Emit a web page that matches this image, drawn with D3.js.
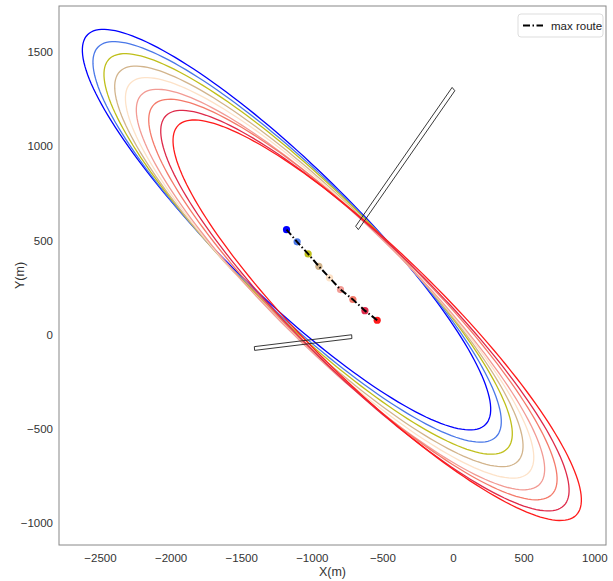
<!DOCTYPE html>
<html lang="en">
<head>
<meta charset="UTF-8">
<title>max route ellipses</title>
<script src="https://d3js.org/d3.v7.min.js"></script>
<style>
  body { margin: 0; background: #fff; }
  svg { display: block; font-family: "Liberation Sans Narrow", "Liberation Sans", Arial, sans-serif; }
  .axis text { font-size: 11.5px; fill: #333; }
  .label { font-size: 12.5px; fill: #333; }
  .ellipse { fill: none; stroke-width: 1.3px; }
  .rect { fill: none; stroke: #222; stroke-width: 0.9px; }
  .route { fill: none; stroke: #000; stroke-width: 2px; stroke-dasharray: 7 2.5 1.5 2.5; }
</style>
</head>
<body>
<svg width="613" height="581"></svg>
<script>
// route points (ellipse centres), metres
const centerX = [-1179, -1104, -1026, -950, -874, -797, -709, -624, -537];
const centerY = [557, 492, 428, 362, 301, 239, 186, 127, 76];
const colors = ["#0000ff", "#4a78e8", "#bfbf1a", "#d2b48c", "#fde2c8", "#f29b94", "#f47a6a", "#de2a4a", "#ff1a1a"];

// ellipse shape shared by all centres
const semiMajor = 1752;
const semiMinor = 388;
const tiltDeg = -35.4;

// thin rectangles: start point, end point, thickness
const rectStart = [[-680, 566], [-1406, -74]];
const rectEnd = [[3, 1303], [-717, -11]];
const rectThick = [26, 20];

const xTicks = [-2500, -2000, -1500, -1000, -500, 0, 500, 1000];
const yTicks = [-1000, -500, 0, 500, 1000, 1500];

const svg = d3.select("svg");
const plot = { left: 59, right: 606, top: 6, bottom: 545 };

const x = d3.scaleLinear().domain([-2790, 1083]).range([plot.left, plot.right]);
const y = d3.scaleLinear().domain([-1117, 1744]).range([plot.bottom, plot.top]);
const fmt = d3.format("d");

// frame
svg.append("rect")
  .attr("x", plot.left).attr("y", plot.top)
  .attr("width", plot.right - plot.left).attr("height", plot.bottom - plot.top)
  .attr("fill", "none").attr("stroke", "#888").attr("stroke-width", 1);

const xAxis = svg.append("g").attr("class", "axis")
  .attr("transform", `translate(0,${plot.bottom})`)
  .call(d3.axisBottom(x).tickValues(xTicks).tickFormat(fmt).tickSize(0).tickPadding(9));
xAxis.select(".domain").remove();

const yAxis = svg.append("g").attr("class", "axis")
  .attr("transform", `translate(${plot.left},0)`)
  .call(d3.axisLeft(y).tickValues(yTicks).tickFormat(fmt).tickSize(0).tickPadding(6));
yAxis.select(".domain").remove();

svg.append("text").attr("class", "label")
  .attr("x", (plot.left + plot.right) / 2).attr("y", 576)
  .attr("text-anchor", "middle").text("X(m)");
svg.append("text").attr("class", "label")
  .attr("transform", `translate(24,${(plot.top + plot.bottom) / 2}) rotate(-90)`)
  .attr("text-anchor", "middle").text("Y(m)");

// ellipses
const th = tiltDeg * Math.PI / 180;
const ts = d3.range(0, 361, 2).map(d => d * Math.PI / 180);
const line = d3.line().x(d => x(d[0])).y(d => y(d[1]));

centerX.forEach((cx, i) => {
  const cy = centerY[i];
  const pts = ts.map(t => [
    cx + semiMajor * Math.cos(th) * Math.cos(t) - semiMinor * Math.sin(th) * Math.sin(t),
    cy + semiMajor * Math.sin(th) * Math.cos(t) + semiMinor * Math.cos(th) * Math.sin(t)
  ]);
  svg.append("path").attr("class", "ellipse")
    .attr("stroke", colors[i])
    .attr("d", line(pts) + "Z");
});

// rectangles
rectStart.forEach((s, i) => {
  const e = rectEnd[i];
  const dx = e[0] - s[0], dy = e[1] - s[1];
  const len = Math.hypot(dx, dy);
  const nx = -dy / len * rectThick[i] / 2, ny = dx / len * rectThick[i] / 2;
  const corners = [
    [s[0] + nx, s[1] + ny], [e[0] + nx, e[1] + ny],
    [e[0] - nx, e[1] - ny], [s[0] - nx, s[1] - ny]
  ];
  svg.append("path").attr("class", "rect").attr("d", line(corners) + "Z");
});

// route markers and line
svg.selectAll("circle.pt")
  .data(centerX.map((d, i) => [d, centerY[i], colors[i]]))
  .join("circle")
  .attr("class", "pt")
  .attr("cx", d => x(d[0])).attr("cy", d => y(d[1]))
  .attr("r", 3.6)
  .attr("fill", d => d[2]);

svg.append("path").attr("class", "route")
  .attr("d", line(centerX.map((d, i) => [d, centerY[i]])));

// legend
const lg = svg.append("g").attr("transform", "translate(518,14)");
lg.append("rect").attr("width", 85).attr("height", 23).attr("rx", 3)
  .attr("fill", "#fff").attr("stroke", "#ddd");
lg.append("line").attr("class", "route")
  .attr("x1", 5).attr("x2", 25).attr("y1", 11.5).attr("y2", 11.5);
lg.append("text").attr("x", 33).attr("y", 15.5)
  .attr("font-size", 11.5).attr("fill", "#222").text("max route");
</script>
</body>
</html>
